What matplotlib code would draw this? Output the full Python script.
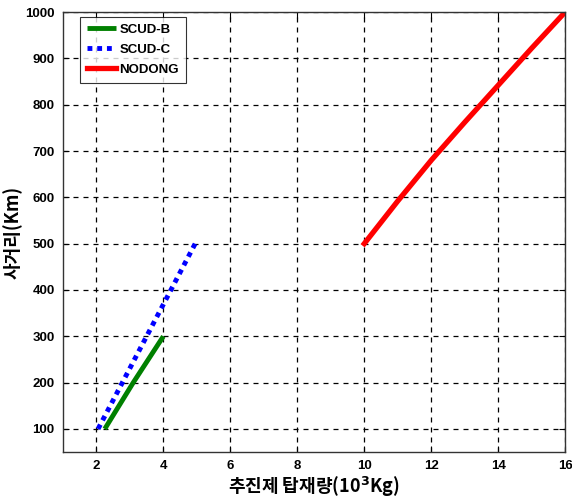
import matplotlib
matplotlib.use("Agg")
import matplotlib.pyplot as plt

scud_b_x = [2.25, 3.1, 4.0]
scud_b_y = [100, 200, 300]
scud_c_x = [2.05, 3.5, 4.95]
scud_c_y = [100, 300, 500]
nodong_x = [10, 11, 12, 13, 14, 15, 16]
nodong_y = [500, 592, 680, 762, 842, 922, 1000]
labels = ["SCUD-B", "SCUD-C", "NODONG"]
xticks = [2, 4, 6, 8, 10, 12, 14, 16]
yticks = [100, 200, 300, 400, 500, 600, 700, 800, 900, 1000]

plt.rcParams['font.family'] = ['Liberation Sans', 'Noto Sans CJK KR', 'DejaVu Sans']
plt.rcParams['font.weight'] = 'bold'

fig = plt.figure(figsize=(5.72, 5.04), dpi=100)
ax = fig.add_axes([0.110, 0.103, 0.878, 0.873])

ax.plot(scud_b_x, scud_b_y, color='#008000', lw=3.5, label=labels[0], solid_capstyle='butt')
ax.plot(scud_c_x, scud_c_y, color='#0000ff', lw=3.5, ls=(0, (1, 1)), label=labels[1])
ax.plot(nodong_x, nodong_y, color='#ff0000', lw=3.8, label=labels[2])

ax.set_xlim(1, 16)
ax.set_ylim(50, 1000)
ax.set_xticks(xticks)
ax.set_yticks(yticks)
ax.set_xticklabels([str(t) for t in xticks], fontsize=9.5, fontweight='bold')
ax.set_yticklabels([str(t) for t in yticks], fontsize=9.5, fontweight='bold')
ax.tick_params(direction='in', top=True, right=True, length=4, width=0.8, pad=6)
ax.grid(True, color='black', ls=(0, (4, 4)), lw=0.9)
for s in ax.spines.values():
    s.set_linewidth(1.0)
    s.set_color('#333333')

ax.set_xlabel('추진제 탑재량(10$^3$Kg)', fontsize=13, fontweight='bold',
              family=['Noto Sans CJK KR', 'DejaVu Sans'], labelpad=2)
ax.set_ylabel('사거리(Km)', fontsize=13, fontweight='bold',
              family=['Noto Sans CJK KR', 'DejaVu Sans'], labelpad=2)

leg = ax.legend(loc='upper left', bbox_to_anchor=(0.034, 0.989), fontsize=9.5,
                frameon=True, fancybox=False, edgecolor='black', handlelength=2.2,
                handletextpad=0.3, borderpad=0.5, labelspacing=0.6, borderaxespad=0)
leg.get_frame().set_linewidth(0.8)

fig.savefig('out.png', dpi=100)
